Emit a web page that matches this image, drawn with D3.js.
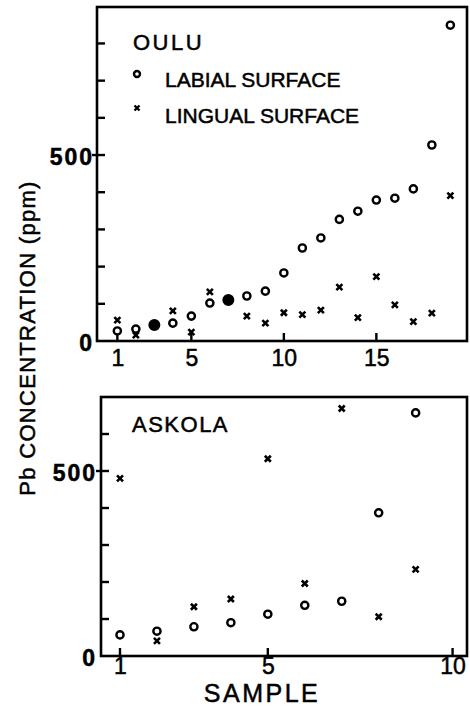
<!DOCTYPE html>
<html>
<head>
<meta charset="utf-8">
<script src="https://cdn.jsdelivr.net/npm/d3@7"></script>
<style>
  body { margin: 0; background: #fff; }
  svg text { font-family: "Liberation Sans", Arial, sans-serif; fill: #000; stroke: #000; stroke-width: 0.5px; }
</style>
</head>
<body>
<svg id="chart" width="470" height="707"></svg>
<script>
// DATA
var ouluSamples = [1, 2, 3, 4, 5, 6, 7, 8, 9, 10, 11, 12, 13, 14, 15, 16, 17, 18, 19]
var ouluLabial = [27, 32, 43, 48, 67, 102, 110, 121, 134, 183, 250, 277, 327, 349, 379, 384, 409, 527, 849]
var ouluLingual = [56, 16, 43, 81, 24, 132, 110, 67, 48, 76, 71, 83, 145, 63, 173, 97, 52, 75, 391]

var askolaSamples = [1, 2, 3, 4, 5, 6, 7, 8, 9]
var askolaLabial = [57, 67, 79, 90, 113, 137, 148, 387, 657]
var askolaLingual = [480, 41, 133, 154, 533, 196, 669, 106, 234]

var yLabelTicks = [0, 500]
var ouluYTicks = [100, 200, 300, 400, 500, 600, 700, 800]
var askolaYTicks = [100, 200, 300, 400, 500, 600]
var ouluXTicks = [1, 5, 10, 15]
var askolaXTicks = [1, 5, 10]

var legendLabels = ["LABIAL SURFACE", "LINGUAL SURFACE"]

const svg = d3.select("#chart")

// cross marker shape
const crossPath = function(s) {
    return `M${-s},${-s}L${s},${s}M${-s},${s}L${s},${-s}`
}

function drawPanel(cfg) {
    const x = d3.scaleLinear().domain(cfg.xDomain).range([cfg.left, cfg.right])
    const y = d3.scaleLinear().domain(cfg.yDomain).range([cfg.bottom, cfg.top])
    const g = svg.append("g")

    // frame
    g.append("rect")
        .attr("x", cfg.left)
        .attr("y", cfg.top)
        .attr("width", cfg.right - cfg.left)
        .attr("height", cfg.bottom - cfg.top)
        .attr("fill", "none")
        .attr("stroke", "#000")
        .attr("stroke-width", 2.6)

    // inward ticks on the left (500 also pokes outside)
    g.selectAll(".ytick")
        .data(cfg.yTicks)
        .enter().append("line")
        .attr("class", "ytick")
        .attr("x1", d => yLabelTicks.includes(d) ? cfg.left - 5 : cfg.left)
        .attr("x2", cfg.left + 8)
        .attr("y1", d => y(d))
        .attr("y2", d => y(d))
        .attr("stroke", "#000")
        .attr("stroke-width", 2.4)

    // inward ticks on the bottom
    g.selectAll(".xtick")
        .data(cfg.xTicks)
        .enter().append("line")
        .attr("class", "xtick")
        .attr("x1", d => x(d))
        .attr("x2", d => x(d))
        .attr("y1", cfg.bottom)
        .attr("y2", cfg.bottom - 8)
        .attr("stroke", "#000")
        .attr("stroke-width", 2.4)

    // left labels
    g.append("g")
        .attr("transform", `translate(${cfg.left},0)`)
        .call(d3.axisLeft(y).tickValues(yLabelTicks).tickSize(0).tickPadding(cfg.yPad))
        .call(a => a.select(".domain").remove())
        .call(a => a.selectAll("text")
            .attr("font-family", "Liberation Sans, Arial, sans-serif")
            .attr("font-size", 23)
            .attr("font-weight", "bold")
            .attr("letter-spacing", 2)
            .attr("dy", "0.4em"))

    // bottom labels
    g.append("g")
        .attr("transform", `translate(0,${cfg.bottom})`)
        .call(d3.axisBottom(x).tickValues(cfg.xTicks).tickSize(0).tickPadding(cfg.xPad))
        .call(a => a.select(".domain").remove())
        .call(a => a.selectAll("text")
            .attr("font-family", "Liberation Sans, Arial, sans-serif")
            .attr("font-size", 23))

    const pts = cfg.samples.map(function(s, i) {
        return { x: s, lab: cfg.labial[i], lin: cfg.lingual[i] }
    })

    // lingual surface: crosses
    g.selectAll(".lin")
        .data(pts.filter(d => d.lab !== d.lin))
        .enter().append("path")
        .attr("class", "lin")
        .attr("transform", d => `translate(${x(d.x)},${y(d.lin)})`)
        .attr("d", crossPath(3))
        .attr("stroke", "#000")
        .attr("stroke-width", 2.6)
        .attr("fill", "none")

    // labial surface: open circles (filled where both coincide)
    g.selectAll(".lab")
        .data(pts)
        .enter().append("circle")
        .attr("class", "lab")
        .attr("cx", d => x(d.x))
        .attr("cy", d => y(d.lab))
        .attr("r", d => d.lab === d.lin ? 4.8 : 3.6)
        .attr("fill", d => d.lab === d.lin ? "#000" : "#fff")
        .attr("stroke", "#000")
        .attr("stroke-width", 2.4)

    g.append("text")
        .attr("x", cfg.titleX)
        .attr("y", cfg.titleY)
        .attr("font-size", 22)
        .attr("letter-spacing", cfg.titleSpacing)
        .text(cfg.title)

    return { g: g, x: x, y: y }
}

// PANEL 1 (OULU)
const top_panel = drawPanel({
    left: 97, right: 467, top: 7, bottom: 341,
    xDomain: [-0.1, 19.9], yDomain: [0, 898],
    yTicks: ouluYTicks, xTicks: ouluXTicks,
    yPad: 3, xPad: 9,
    samples: ouluSamples, labial: ouluLabial, lingual: ouluLingual,
    title: "OULU", titleX: 133, titleY: 50, titleSpacing: 2.5
})

// legend
const legend = svg.append("g")
legend.append("circle")
    .attr("cx", 137).attr("cy", 74).attr("r", 3)
    .attr("fill", "#fff").attr("stroke", "#000").attr("stroke-width", 2.4)
legend.append("path")
    .attr("transform", "translate(137,108)")
    .attr("d", crossPath(2.5))
    .attr("stroke", "#000").attr("stroke-width", 2.4)
legend.selectAll("text.leg")
    .data(legendLabels)
    .enter().append("text")
    .attr("class", "leg")
    .attr("x", 165)
    .attr("y", (d, i) => 87 + i * 36)
    .attr("font-size", 21)
    .text(d => d)

// PANEL 2 (ASKOLA)
drawPanel({
    left: 101, right: 467, top: 397, bottom: 656,
    xDomain: [0.486, 10.39], yDomain: [0, 700],
    yTicks: askolaYTicks, xTicks: askolaXTicks,
    yPad: 4, xPad: 2,
    samples: askolaSamples, labial: askolaLabial, lingual: askolaLingual,
    title: "ASKOLA", titleX: 132, titleY: 432, titleSpacing: 1.5
})

// axis titles
svg.append("text")
    .attr("transform", "translate(35,338) rotate(-90)")
    .attr("text-anchor", "middle")
    .attr("font-size", 22)
    .attr("letter-spacing", 1.3)
    .text("Pb CONCENTRATION (ppm)")

svg.append("text")
    .attr("x", 262)
    .attr("y", 702)
    .attr("text-anchor", "middle")
    .attr("font-size", 25)
    .attr("letter-spacing", 2.5)
    .text("SAMPLE")
</script>
</body>
</html>
